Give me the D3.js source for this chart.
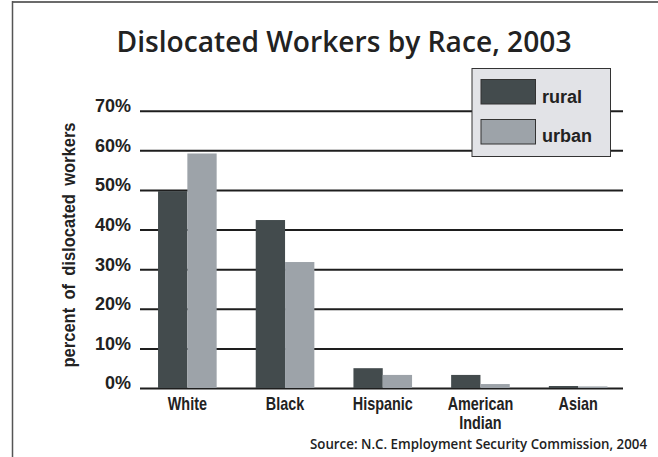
<!DOCTYPE html>
<html><head><meta charset="utf-8">
<script src="https://cdn.jsdelivr.net/npm/d3@7"></script>
<style>body{margin:0;background:#fff}svg{display:block}</style>
</head><body>
<svg id="c" width="658" height="457"></svg>
<script>
const categories = ["White", "Black", "Hispanic", "American\nIndian", "Asian"];
const seriesNames = ["rural", "urban"];
const rural = [49.7, 42.4, 5.0, 3.3, 0.5];
const urban = [59.2, 31.8, 3.3, 1.0, 0.4];
const tickValues = [0, 10, 20, 30, 40, 50, 60, 70];
const tickLabels = ["0%", "10%", "20%", "30%", "40%", "50%", "60%", "70%"];
const colors = {rural: "#434b4d", urban: "#9da3a9"};

const svg = d3.select("#c");
const W = 658, H = 457;

// frame
svg.append("line").attr("x1", 12).attr("x2", W).attr("y1", 2).attr("y2", 2).attr("stroke", "#6b6b6b").attr("stroke-width", 2);
svg.append("line").attr("x1", 12.5).attr("x2", 12.5).attr("y1", 1).attr("y2", H).attr("stroke", "#555").attr("stroke-width", 1.5);

// title
svg.append("text").attr("x", 344).attr("y", 52).attr("text-anchor", "middle")
  .attr("font-family", "'Open Sans', 'Noto Sans', sans-serif").attr("font-weight", 600).attr("font-size", 29)
  .attr("fill", "#222").attr("textLength", 455).attr("lengthAdjust", "spacingAndGlyphs")
  .text("Dislocated Workers by Race, 2003");

const x = d3.scaleBand().domain(categories).range([138.5, 627]).paddingInner(0.4).paddingOuter(0.2);
const xs = d3.scaleBand().domain(seriesNames).range([0, x.bandwidth()]);
const y = d3.scaleLinear().domain([0, 70]).range([388, 110.7]);
const gx0 = 140, gx1 = 623;

// gridlines + tick labels via axis
const yAxis = d3.axisLeft(y).tickValues(tickValues).tickSize(-(gx1 - gx0)).tickPadding(9)
  .tickFormat((d, i) => tickLabels[i]);
const ga = svg.append("g").attr("transform", `translate(${gx0},0)`).call(yAxis);
ga.select(".domain").remove();
ga.selectAll(".tick line").attr("stroke", "#1e1e1e").attr("stroke-width", 2);
ga.selectAll(".tick text").attr("font-family", "'Liberation Sans', Arial, sans-serif").attr("font-weight", "bold")
  .attr("font-size", 18).attr("fill", "#222").attr("dy", "0.05em");

// bars
const data = categories.map((c, i) => ({c, rural: rural[i], urban: urban[i]}));
const groups = svg.append("g").selectAll("g").data(data).join("g")
  .attr("transform", d => `translate(${x(d.c)},0)`);
groups.selectAll("rect").data(d => seriesNames.map(s => ({s, v: d[s]}))).join("rect")
  .attr("x", d => xs(d.s)).attr("width", xs.bandwidth())
  .attr("y", d => y(d.v)).attr("height", d => y(0) - y(d.v))
  .attr("fill", d => colors[d.s]);

// x labels
const xl = svg.append("g").selectAll("text").data(categories).join("text")
  .attr("font-family", "'Liberation Sans', Arial, sans-serif").attr("font-weight", "bold").attr("font-size", 18)
  .attr("fill", "#222").attr("text-anchor", "middle")
  .attr("transform", d => `translate(${x(d) + x.bandwidth() / 2},410) scale(0.8,1)`);
xl.selectAll("tspan").data(d => d.split("\n")).join("tspan")
  .attr("x", 0).attr("dy", (d, i) => i === 0 ? 0 : 19.5).text(d => d);

// y axis title
svg.append("text").attr("transform", "translate(75,245) rotate(-90)").attr("text-anchor", "middle")
  .attr("font-family", "'Liberation Sans', Arial, sans-serif").attr("font-weight", "bold").attr("font-size", 18)
  .attr("word-spacing", 4)
  .attr("fill", "#222").attr("textLength", 245).attr("lengthAdjust", "spacingAndGlyphs")
  .text("percent of dislocated workers");

// legend
const lg = svg.append("g");
lg.append("rect").attr("x", 472).attr("y", 68.5).attr("width", 138.5).attr("height", 88)
  .attr("fill", "#e2e3e7").attr("stroke", "#333").attr("stroke-width", 1);
seriesNames.forEach((s, i) => {
  lg.append("rect").attr("x", 481).attr("y", 79.5 + i * 40).attr("width", 54.5).attr("height", 24.5)
    .attr("fill", colors[s]).attr("stroke", "#333").attr("stroke-width", 1);
  lg.append("text").attr("x", 542).attr("y", 102.5 + i * 39.5)
    .attr("font-family", "'Liberation Sans', Arial, sans-serif").attr("font-weight", "bold").attr("font-size", 18)
    .attr("fill", "#222").text(s);
});

// source
svg.append("text").attr("x", 647).attr("y", 449).attr("text-anchor", "end")
  .attr("font-family", "'Open Sans', 'Noto Sans', sans-serif").attr("font-weight", 600).attr("font-size", 13.5)
  .attr("fill", "#222").attr("textLength", 337).attr("lengthAdjust", "spacingAndGlyphs")
  .text("Source: N.C. Employment Security Commission, 2004");
</script>
</body></html>
